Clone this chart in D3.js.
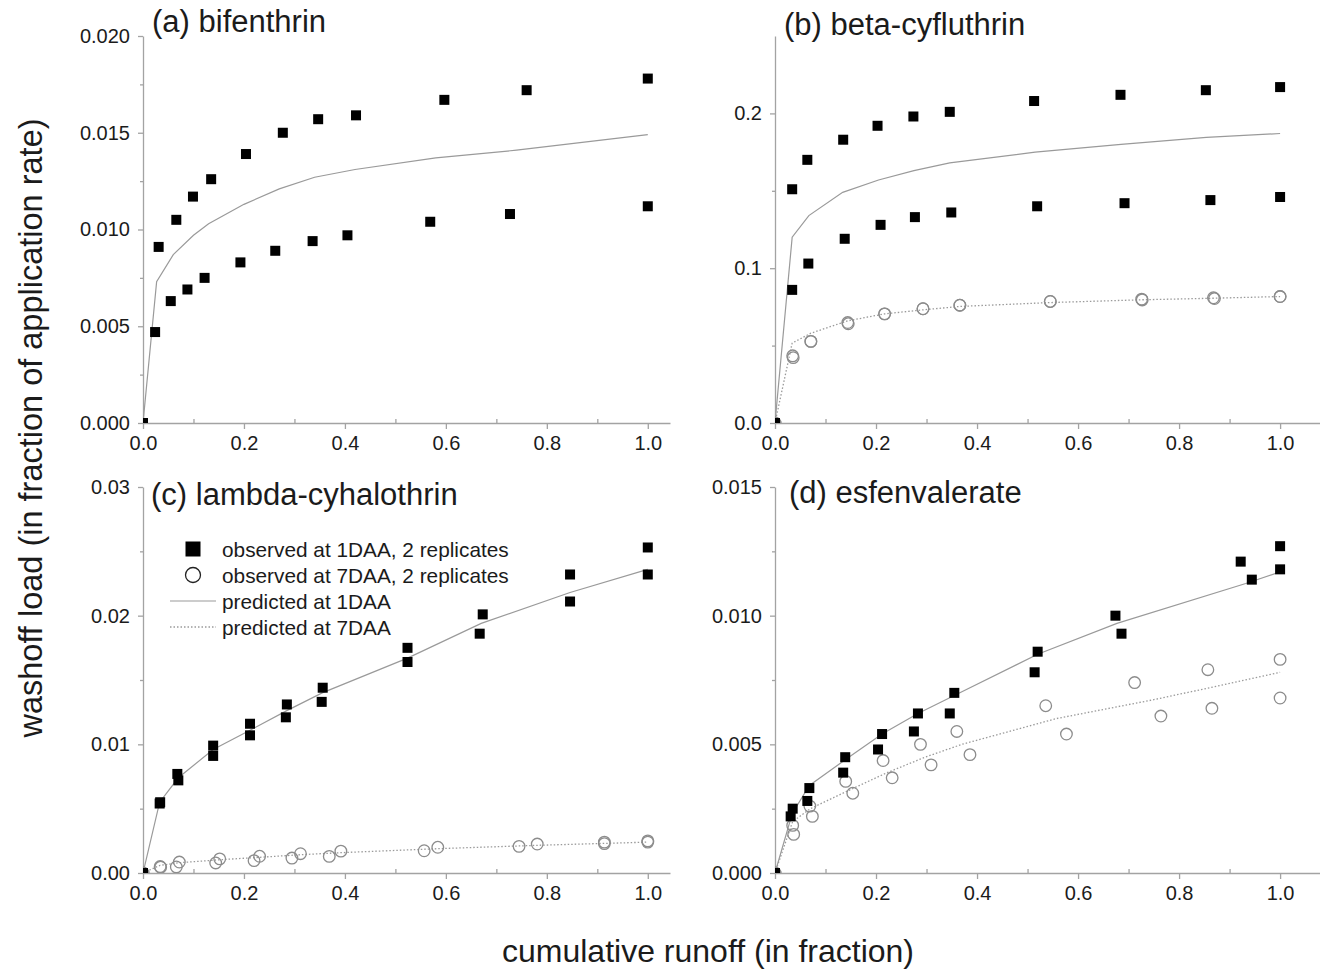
<!DOCTYPE html>
<html>
<head>
<meta charset="utf-8">
<script src="https://cdn.jsdelivr.net/npm/d3@7"></script>
<style>
  body { margin: 0; background: #fff; }
  text { font-family: "Liberation Sans", Arial, Helvetica, sans-serif; }
</style>
</head>
<body>
<svg id="chart" width="1320" height="969"></svg>
<script>
// ---- data: [cumulative runoff fraction, washoff load fraction] ----

// (a) bifenthrin
const bifObs1 = [[0,0],[0.031,0.0091],[0.066,0.0105],[0.099,0.0117],[0.135,0.0126],[0.204,0.0139],[0.277,0.0150],[0.347,0.0157],[0.422,0.0159],[0.597,0.0167],[0.760,0.0172],[1.0,0.0178]];
const bifObs2 = [[0,0],[0.024,0.0047],[0.055,0.0063],[0.088,0.0069],[0.122,0.0075],[0.193,0.0083],[0.262,0.0089],[0.336,0.0094],[0.405,0.0097],[0.569,0.0104],[0.727,0.0108],[1.0,0.0112]];
const bifPred1 = [[0,0],[0.027,0.0073],[0.06,0.0087],[0.1,0.0097],[0.13,0.0103],[0.2,0.0113],[0.27,0.0121],[0.34,0.0127],[0.42,0.0131],[0.58,0.0137],[0.74,0.0141],[1.0,0.0149]];

// (b) beta-cyfluthrin
const cyfObs1 = [[0,0],[0.034,0.151],[0.064,0.170],[0.135,0.183],[0.203,0.192],[0.274,0.198],[0.346,0.201],[0.513,0.208],[0.684,0.212],[0.853,0.215],[1.0,0.217]];
const cyfObs2 = [[0,0],[0.034,0.086],[0.066,0.103],[0.138,0.119],[0.209,0.128],[0.277,0.133],[0.349,0.136],[0.519,0.140],[0.692,0.142],[0.862,0.144],[1.0,0.146]];
const cyf7Obs1 = [[0,0],[0.035,0.0434],[0.071,0.0527],[0.144,0.0649],[0.217,0.0705],[0.293,0.0738],[0.366,0.0761],[0.545,0.0785],[0.726,0.0800],[0.868,0.0809],[1.0,0.0817]];
const cyf7Obs2 = [[0,0],[0.036,0.0422],[0.071,0.0527],[0.145,0.0641],[0.217,0.0705],[0.293,0.0738],[0.366,0.0761],[0.545,0.0785],[0.727,0.0795],[0.870,0.0804],[1.0,0.0817]];
const cyfPred1 = [[0,0],[0.034,0.120],[0.067,0.134],[0.134,0.149],[0.205,0.157],[0.275,0.163],[0.346,0.168],[0.515,0.175],[0.685,0.180],[0.854,0.1845],[1.0,0.187]];
const cyfPred7 = [[0,0],[0.034,0.0516],[0.071,0.058],[0.144,0.066],[0.217,0.0705],[0.293,0.0731],[0.366,0.0753],[0.545,0.0778],[0.726,0.0796],[0.868,0.0806],[1.0,0.0817]];

// (c) lambda-cyhalothrin
const lamObs1 = [[0,0],[0.034,0.0055],[0.068,0.0077],[0.139,0.0099],[0.212,0.0116],[0.285,0.0131],[0.356,0.0144],[0.524,0.0175],[0.673,0.0201],[0.846,0.0232],[1.0,0.0253]];
const lamObs2 = [[0,0],[0.033,0.0054],[0.070,0.0072],[0.139,0.0091],[0.212,0.0107],[0.283,0.0121],[0.354,0.0133],[0.524,0.0164],[0.667,0.0186],[0.846,0.0211],[1.0,0.0232]];
const lam7Obs1 = [[0,0],[0.034,0.0005],[0.072,0.00085],[0.152,0.0011],[0.231,0.0013],[0.312,0.0015],[0.392,0.0017],[0.584,0.0020],[0.781,0.00225],[0.914,0.0024],[1.0,0.0025]];
const lam7Obs2 = [[0,0],[0.035,0.00045],[0.066,0.00047],[0.144,0.00078],[0.220,0.00096],[0.295,0.00116],[0.369,0.00129],[0.557,0.00173],[0.745,0.00207],[0.914,0.00228],[1.0,0.0024]];
const lamPred1 = [[0,0],[0.033,0.0055],[0.07,0.0074],[0.139,0.0096],[0.212,0.0111],[0.284,0.0126],[0.355,0.0140],[0.524,0.0167],[0.67,0.0194],[0.846,0.0218],[1.0,0.0236]];
const lamPred7 = [[0,0],[0.034,0.0006],[0.072,0.0008],[0.152,0.00103],[0.231,0.00122],[0.312,0.00142],[0.392,0.00158],[0.584,0.00189],[0.781,0.00215],[0.914,0.0023],[1.0,0.0024]];

// (d) esfenvalerate
const esfObs1 = [[0,0],[0.035,0.0025],[0.068,0.0033],[0.139,0.0045],[0.212,0.0054],[0.283,0.0062],[0.355,0.0070],[0.52,0.0086],[0.674,0.0100],[0.922,0.0121],[1.0,0.0127]];
const esfObs2 = [[0,0],[0.031,0.0022],[0.064,0.0028],[0.135,0.0039],[0.204,0.0048],[0.275,0.0055],[0.346,0.0062],[0.514,0.0078],[0.686,0.0093],[0.944,0.0114],[1.0,0.0118]];
const esf7Obs1 = [[0,0],[0.035,0.00185],[0.069,0.0026],[0.14,0.00356],[0.214,0.00437],[0.288,0.0050],[0.36,0.0055],[0.536,0.0065],[0.712,0.0074],[0.857,0.0079],[1.0,0.0083]];
const esf7Obs2 = [[0,0],[0.037,0.0015],[0.074,0.0022],[0.154,0.0031],[0.232,0.0037],[0.309,0.0042],[0.386,0.0046],[0.577,0.0054],[0.764,0.0061],[0.865,0.0064],[1.0,0.0068]];
const esfPred1 = [[0,0],[0.034,0.0023],[0.068,0.0034],[0.139,0.0044],[0.212,0.0054],[0.283,0.0062],[0.355,0.0069],[0.52,0.0085],[0.677,0.0097],[0.932,0.01125],[1.0,0.0117]];
const esfPred7 = [[0,0],[0.035,0.0020],[0.07,0.0025],[0.145,0.0032],[0.222,0.0039],[0.297,0.0045],[0.37,0.0050],[0.557,0.0060],[0.741,0.0067],[0.861,0.0072],[1.0,0.0078]];

// ---- axis ticks ----
const xMajorTicks = [0, 0.2, 0.4, 0.6, 0.8, 1.0];
const xMinorTicks = [0.1, 0.3, 0.5, 0.7, 0.9];
const yTicksA = [0, 0.005, 0.010, 0.015, 0.020];
const yMinorA = [0.0025, 0.0075, 0.0125, 0.0175];
const yTicksB = [0, 0.1, 0.2];
const yMinorB = [0.05, 0.15];
const yTicksC = [0, 0.01, 0.02, 0.03];
const yMinorC = [0.005, 0.015, 0.025];
const yTicksD = [0, 0.005, 0.010, 0.015];
const yMinorD = [0.0025, 0.0075, 0.0125];

const titles = ["(a) bifenthrin", "(b) beta-cyfluthrin", "(c) lambda-cyhalothrin", "(d) esfenvalerate"];
const legendLabels = ["observed at 1DAA, 2 replicates", "observed at 7DAA, 2 replicates", "predicted at 1DAA", "predicted at 7DAA"];
const yTitle = "washoff load (in fraction of application rate)";
const xTitle = "cumulative runoff (in fraction)";

// ---- panel setup ----
const panels = [
  { title: titles[0], left: 143, bottom: 423, top: 36, right: 670, xMax: 1.044, yMax: 0.020,
    yTicks: yTicksA, yMinor: yMinorA, yFmt: ".3f", tx: 152, ty: 32,
    obs1: [bifObs1, bifObs2], obs7: [], pred1: bifPred1, pred7: null },
  { title: titles[1], left: 775, bottom: 423, top: 36, right: 1320, xMax: 1.079, yMax: 0.25,
    yTicks: yTicksB, yMinor: yMinorB, yFmt: ".1f", tx: 784, ty: 35,
    obs1: [cyfObs1, cyfObs2], obs7: [cyf7Obs1, cyf7Obs2], pred1: cyfPred1, pred7: cyfPred7 },
  { title: titles[2], left: 143, bottom: 873, top: 487, right: 670, xMax: 1.044, yMax: 0.03,
    yTicks: yTicksC, yMinor: yMinorC, yFmt: ".2f", tx: 151, ty: 505,
    obs1: [lamObs1, lamObs2], obs7: [lam7Obs1, lam7Obs2], pred1: lamPred1, pred7: lamPred7, legend: true },
  { title: titles[3], left: 775, bottom: 873, top: 487, right: 1320, xMax: 1.079, yMax: 0.015,
    yTicks: yTicksD, yMinor: yMinorD, yFmt: ".3f", tx: 789, ty: 503,
    obs1: [esfObs1, esfObs2], obs7: [esf7Obs1, esf7Obs2], pred1: esfPred1, pred7: esfPred7 }
];

const AXIS = "#a3a3a3";
const LINE = "#9a9a9a";
const CIRC = "#8c8c8c";
const INK = "#1b1b1b";
const SQ = 10;

const svg = d3.select("#chart");
const defs = svg.append("defs");

panels.forEach((p, i) => {
  const x = d3.scaleLinear().domain([0, p.xMax]).range([p.left, p.right]);
  const y = d3.scaleLinear().domain([0, p.yMax]).range([p.bottom, p.top]);
  const g = svg.append("g");

  defs.append("clipPath").attr("id", "clip" + i)
    .append("rect").attr("x", p.left).attr("y", p.top - 10)
    .attr("width", p.right - p.left).attr("height", p.bottom - p.top + 10);

  // minor ticks on x (inward), major ticks with labels (outward)
  g.append("g").attr("transform", `translate(0,${p.bottom})`)
    .call(d3.axisBottom(x).tickValues(xMinorTicks).tickSize(-4).tickSizeOuter(0).tickFormat(""))
    .call(a => a.select(".domain").remove());
  g.append("g").attr("transform", `translate(0,${p.bottom})`)
    .call(d3.axisBottom(x).tickValues(xMajorTicks).tickSize(6).tickSizeOuter(0).tickPadding(7)
      .tickFormat(d3.format(".1f")));

  g.append("g").attr("transform", `translate(${p.left},0)`)
    .call(d3.axisLeft(y).tickValues(p.yMinor).tickSize(3).tickSizeOuter(0).tickFormat(""))
    .call(a => a.select(".domain").remove());
  g.append("g").attr("transform", `translate(${p.left},0)`)
    .call(d3.axisLeft(y).tickValues(p.yTicks).tickSize(5).tickSizeOuter(0).tickPadding(8)
      .tickFormat(d3.format(p.yFmt)));

  g.selectAll(".domain, .tick line").attr("stroke", AXIS).attr("stroke-width", 1.3);
  g.selectAll(".tick text").attr("fill", INK).style("font-size", "20px")
    .style("font-family", '"Liberation Sans", Arial, sans-serif');

  const plot = g.append("g").attr("clip-path", `url(#clip${i})`);
  const line = d3.line().x(d => x(d[0])).y(d => y(d[1]));

  plot.append("path").datum(p.pred1).attr("d", line)
    .attr("fill", "none").attr("stroke", LINE).attr("stroke-width", 1.2);
  if (p.pred7) {
    plot.append("path").datum(p.pred7).attr("d", line)
      .attr("fill", "none").attr("stroke", LINE).attr("stroke-width", 1.3)
      .attr("stroke-dasharray", "1.5,2");
  }

  p.obs7.forEach(series => {
    plot.append("g").selectAll("circle").data(series).join("circle")
      .attr("cx", d => x(d[0])).attr("cy", d => y(d[1])).attr("r", 5.8)
      .attr("fill", "none").attr("stroke", CIRC).attr("stroke-width", 1.3);
  });
  p.obs1.forEach(series => {
    plot.append("g").selectAll("rect").data(series).join("rect")
      .attr("x", d => x(d[0]) - SQ / 2).attr("y", d => y(d[1]) - SQ / 2)
      .attr("width", SQ).attr("height", SQ).attr("fill", "#000");
  });

  g.append("text").attr("x", p.tx).attr("y", p.ty)
    .attr("fill", INK).style("font-size", "31px").text(p.title);

  if (p.legend) {
    const lg = g.append("g");
    const lx = 193, rows = [549, 575, 601, 627], textX = 222;
    lg.append("rect").attr("x", lx - 7.5).attr("y", rows[0] - 7.5)
      .attr("width", 15).attr("height", 15).attr("fill", "#000");
    lg.append("circle").attr("cx", lx).attr("cy", rows[1]).attr("r", 7.5)
      .attr("fill", "none").attr("stroke", "#222").attr("stroke-width", 1.3);
    lg.append("line").attr("x1", 170).attr("x2", 216).attr("y1", rows[2]).attr("y2", rows[2])
      .attr("stroke", LINE).attr("stroke-width", 1.2);
    lg.append("line").attr("x1", 170).attr("x2", 216).attr("y1", rows[3]).attr("y2", rows[3])
      .attr("stroke", LINE).attr("stroke-width", 1.3).attr("stroke-dasharray", "1.5,2");
    legendLabels.forEach((t, k) => {
      lg.append("text").attr("x", textX).attr("y", rows[k] + 7.5)
        .attr("fill", INK).style("font-size", "20.8px").text(t);
    });
  }
});

svg.append("text").attr("transform", "translate(42,428) rotate(-90)")
  .attr("text-anchor", "middle").attr("fill", INK).style("font-size", "32.5px").text(yTitle);
svg.append("text").attr("x", 708).attr("y", 962)
  .attr("text-anchor", "middle").attr("fill", INK).style("font-size", "32px").text(xTitle);
</script>
</body>
</html>
